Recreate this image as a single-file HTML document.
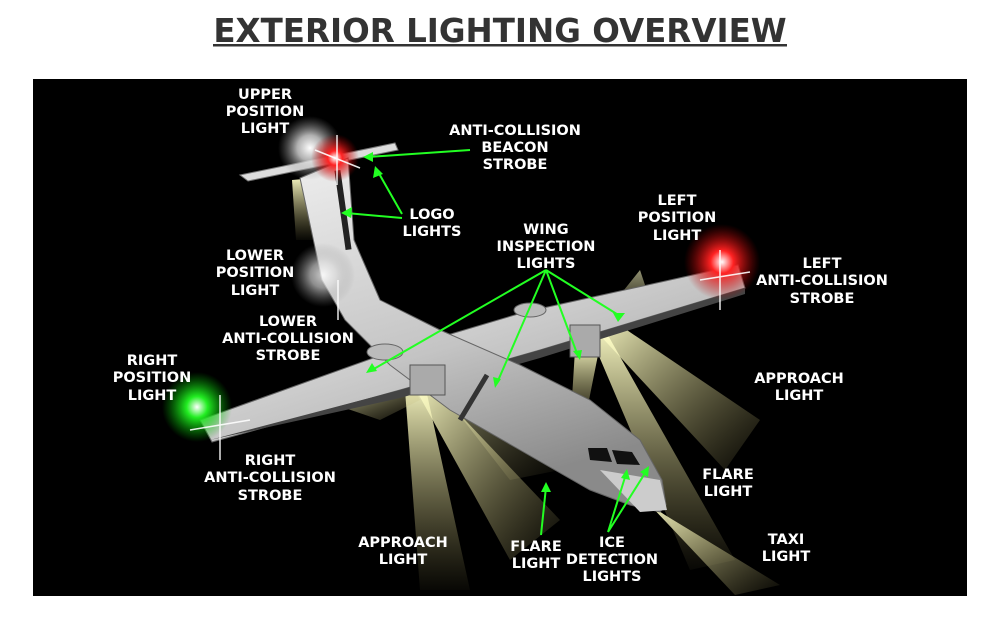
<!DOCTYPE html>
<html><head><meta charset="utf-8"><style>
html,body{margin:0;padding:0;background:#fff;width:1000px;height:625px;overflow:hidden}
svg{display:block}
.t{font-family:"DejaVu Sans","Liberation Sans",sans-serif;font-weight:bold;font-size:14.5px;fill:#fff;text-anchor:middle}
</style></head><body>
<svg width="1000" height="625" viewBox="0 0 1000 625" xmlns="http://www.w3.org/2000/svg">
<defs>
<radialGradient id="gw"><stop offset="0" stop-color="#fff"/><stop offset="0.4" stop-color="#ddd" stop-opacity="0.8"/><stop offset="1" stop-color="#888" stop-opacity="0"/></radialGradient>
<radialGradient id="gr"><stop offset="0" stop-color="#fff"/><stop offset="0.3" stop-color="#f22"/><stop offset="1" stop-color="#a00" stop-opacity="0"/></radialGradient>
<radialGradient id="gg"><stop offset="0" stop-color="#fff"/><stop offset="0.3" stop-color="#2e2"/><stop offset="1" stop-color="#0a0" stop-opacity="0"/></radialGradient>
<linearGradient id="by" x1="0" y1="0" x2="0" y2="1"><stop offset="0" stop-color="#ffffc8" stop-opacity="0.95"/><stop offset="1" stop-color="#aaa060" stop-opacity="0.05"/></linearGradient>
<linearGradient id="bx" x1="0" y1="0" x2="1" y2="1"><stop offset="0" stop-color="#ffffc8" stop-opacity="0.95"/><stop offset="1" stop-color="#aaa060" stop-opacity="0.05"/></linearGradient>
<linearGradient id="body" x1="0" y1="0" x2="1" y2="1"><stop offset="0" stop-color="#f4f4f4"/><stop offset="1" stop-color="#9a9a9a"/></linearGradient>
<linearGradient id="fus" x1="0" y1="0" x2="0.3" y2="1"><stop offset="0" stop-color="#eee"/><stop offset="0.6" stop-color="#c4c4c4"/><stop offset="1" stop-color="#8a8a8a"/></linearGradient>
</defs>
<text x="500" y="42" style="font-family:'DejaVu Sans','Liberation Sans',sans-serif;font-weight:bold;font-size:32.5px;fill:#333;text-anchor:middle">EXTERIOR LIGHTING OVERVIEW</text>
<rect x="213" y="44" width="574" height="2.5" fill="#333"/>
<rect x="33" y="79" width="934" height="517" fill="#000"/>
<!-- beams -->
<polygon points="292,180 315,178 312,240 296,240" fill="url(#by)"/>
<polygon points="405,390 425,385 470,590 420,590" fill="url(#by)"/>
<polygon points="415,388 430,383 560,520 510,560" fill="url(#bx)"/>
<polygon points="345,408 415,390 420,400 380,420" fill="url(#bx)" opacity="0.7"/>
<polygon points="595,330 615,322 760,420 725,470" fill="url(#bx)"/>
<polygon points="590,335 605,330 735,560 690,570" fill="url(#by)"/>
<polygon points="575,350 600,345 585,420 570,430" fill="url(#by)"/>
<polygon points="600,320 640,270 650,300 615,330" fill="url(#by)" opacity="0.6"/>
<polygon points="650,505 665,515 780,585 735,595" fill="url(#bx)"/>
<polygon points="440,390 470,380 560,470 510,480" fill="url(#bx)" opacity="0.6"/>
<!-- plane -->
<polygon points="240,175 395,143 398,150 248,181" fill="#ddd" stroke="#777" stroke-width="1"/>
<polygon points="200,420 212,442 400,390 540,350 745,288 738,265 525,312 390,352" fill="url(#body)" stroke="#666"/>
<polygon points="210,440 400,390 540,350 745,288 745,294 540,358 400,398" fill="#444"/>
<polygon points="300,178 348,158 354,240 380,300 440,330 520,365 590,400 640,440 662,480 666,505 660,512 630,505 590,490 520,450 450,410 390,365 345,320 322,280" fill="url(#fus)" stroke="#666"/>
<rect x="340" y="170" width="6" height="80" fill="#222" transform="rotate(-8 343 210)"/>
<polygon points="600,470 660,480 667,510 640,512" fill="#ccc"/>
<polygon points="588,448 607,448 612,462 590,460" fill="#111"/><polygon points="612,450 632,452 640,465 617,464" fill="#111"/>
<ellipse cx="385" cy="352" rx="18" ry="8" fill="#bbb" stroke="#666"/>
<ellipse cx="530" cy="310" rx="16" ry="7" fill="#bbb" stroke="#666"/>
<rect x="410" y="365" width="35" height="30" fill="#aaa" stroke="#555"/>
<rect x="570" y="325" width="30" height="32" fill="#aaa" stroke="#555"/>
<line x1="487" y1="375" x2="460" y2="420" stroke="#333" stroke-width="5"/>
<!-- glows -->
<circle cx="310" cy="148" r="32" fill="url(#gw)"/>
<circle cx="335" cy="158" r="24" fill="url(#gr)"/>
<circle cx="323" cy="275" r="32" fill="url(#gw)" opacity="0.8"/>
<circle cx="722" cy="262" r="38" fill="url(#gr)"/>
<circle cx="197" cy="407" r="35" fill="url(#gg)"/>
<g stroke="#fff" stroke-width="1.5" opacity="0.9">
<line x1="720" y1="250" x2="720" y2="310"/><line x1="700" y1="280" x2="750" y2="272"/>
<line x1="220" y1="395" x2="220" y2="460"/><line x1="190" y1="430" x2="250" y2="420"/>
<line x1="337" y1="135" x2="337" y2="185"/><line x1="315" y1="150" x2="360" y2="168"/>
<line x1="338" y1="280" x2="338" y2="320"/>
</g>
<!-- green leaders -->
<g stroke="#2f2" stroke-width="2" fill="none">
<path d="M470,150 L368,157"/><path d="M402,214 L377,170 M402,218 L346,213"/>
<path d="M546,270 L372,370 M546,270 L497,383 M546,270 L578,356 M546,270 L620,316"/>
<path d="M541,535 L546,487"/><path d="M608,532 L626,474 M608,532 L647,470"/>
</g>
<g fill="#2f2">
<polygon points="363,157 373,152 373,162"/><polygon points="375,166 373,178 383,174"/><polygon points="341,213 352,207 351,218"/>
<polygon points="366,373 372,363 377,371"/><polygon points="495,388 493,377 501,379"/><polygon points="580,360 573,351 582,350"/><polygon points="625,313 613,313 618,322"/>
<polygon points="546,482 541,492 551,492"/><polygon points="627,469 621,478 630,480"/><polygon points="649,466 640,472 648,477"/>
</g>
<!-- labels -->
<g class="t">
<text x="265" y="99">UPPER</text><text x="265" y="116">POSITION</text><text x="265" y="133">LIGHT</text>
<text x="515" y="135">ANTI-COLLISION</text><text x="515" y="152">BEACON</text><text x="515" y="169">STROBE</text>
<text x="432" y="219">LOGO</text><text x="432" y="236">LIGHTS</text>
<text x="546" y="234">WING</text><text x="546" y="251">INSPECTION</text><text x="546" y="268">LIGHTS</text>
<text x="677" y="205">LEFT</text><text x="677" y="222">POSITION</text><text x="677" y="240">LIGHT</text>
<text x="822" y="268">LEFT</text><text x="822" y="285">ANTI-COLLISION</text><text x="822" y="303">STROBE</text>
<text x="255" y="260">LOWER</text><text x="255" y="277">POSITION</text><text x="255" y="295">LIGHT</text>
<text x="288" y="326">LOWER</text><text x="288" y="343">ANTI-COLLISION</text><text x="288" y="360">STROBE</text>
<text x="152" y="365">RIGHT</text><text x="152" y="382">POSITION</text><text x="152" y="400">LIGHT</text>
<text x="270" y="465">RIGHT</text><text x="270" y="482">ANTI-COLLISION</text><text x="270" y="500">STROBE</text>
<text x="799" y="383">APPROACH</text><text x="799" y="400">LIGHT</text>
<text x="728" y="479">FLARE</text><text x="728" y="496">LIGHT</text>
<text x="786" y="544">TAXI</text><text x="786" y="561">LIGHT</text>
<text x="403" y="547">APPROACH</text><text x="403" y="564">LIGHT</text>
<text x="536" y="551">FLARE</text><text x="536" y="568">LIGHT</text>
<text x="612" y="547">ICE</text><text x="612" y="564">DETECTION</text><text x="612" y="581">LIGHTS</text>
</g>
</svg>
</body></html>
